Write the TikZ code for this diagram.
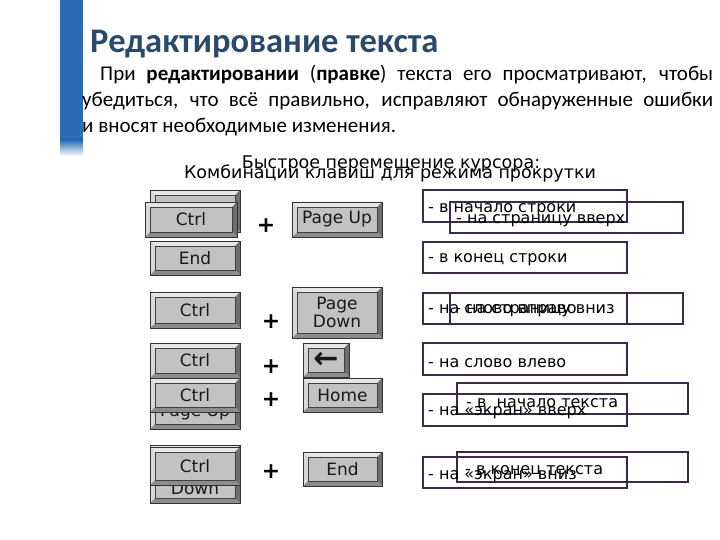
\documentclass[tikz,border=0pt]{standalone}
\usepackage{fontspec}
\setmainfont{Carlito}
\newfontfamily\dv{DejaVu Sans}
\definecolor{barblue}{HTML}{2A6DB4}
\definecolor{titleblue}{HTML}{2B4A6B}
\definecolor{boxline}{HTML}{3B2B48}
\definecolor{kbface}{HTML}{C2C2C2}
\definecolor{kbtop}{HTML}{E6E6E6}
\definecolor{kbleft}{HTML}{D8D8D8}
\definecolor{kbright}{HTML}{6E6E6E}
\definecolor{kbbottom}{HTML}{8C8C8C}
\newcommand\bvw{5}
% name, x1, y1, x2, y2, label
\newcommand\kbkey[6]{%
  \fill[kbtop] (#2,#3) -- (#4,#3) -- ({#4-\bvw},{#3+\bvw}) -- ({#2+\bvw},{#3+\bvw}) -- cycle;
  \fill[kbleft] (#2,#3) -- ({#2+\bvw},{#3+\bvw}) -- ({#2+\bvw},{#5-\bvw}) -- (#2,#5) -- cycle;
  \fill[kbright] (#4,#3) -- (#4,#5) -- ({#4-\bvw},{#5-\bvw}) -- ({#4-\bvw},{#3+\bvw}) -- cycle;
  \fill[kbbottom] (#2,#5) -- (#4,#5) -- ({#4-\bvw},{#5-\bvw}) -- ({#2+\bvw},{#5-\bvw}) -- cycle;
  \draw[kbfacestyle] ({#2+\bvw},{#3+\bvw}) rectangle ({#4-\bvw},{#5-\bvw});
  \draw[kboutline] (#2,#3) rectangle (#4,#5);
  \node[kblabel] (#1) at ({(#2+#4)/2},{(#3+#5)/2}) {#6};
}
\begin{document}
\begin{tikzpicture}[x=1pt,y=-1pt,
  kbfacestyle/.style={fill=kbface, draw=black!75, line width=0.8pt},
  kboutline/.style={draw=black!80, line width=0.8pt},
  kblabel/.style={font=\dv\fontsize{17}{18}\selectfont, align=center, inner sep=0pt, text=black!90},
  plus/.style={font=\dv\bfseries\fontsize{22}{22}\selectfont, inner sep=0pt},
  descbox/.style={draw=boxline, line width=1.1pt},
  desc/.style={font=\dv\fontsize{16}{17}\selectfont, anchor=west, inner sep=0pt},
  bodyline/.style={font=\fontsize{21}{26}\selectfont, anchor=base west, inner sep=0pt}]
\useasboundingbox (0,0) rectangle (720,540);
\fill[white] (0,0) rectangle (720,540);
% blue bar
\fill[barblue] (60,0) rectangle (83,140);
\shade[top color=barblue, bottom color=white] (60,140) rectangle (83,156);
% title
\node[anchor=base west, inner sep=0pt, text=titleblue, font=\bfseries\fontsize{34.5}{36}\selectfont] (title) at (90,53) {Редактирование текста};
% body
\node[bodyline] (l1) at (100,81) {\makebox[613pt][s]{При \textbf{редактировании} (\textbf{правке}) текста его просматривают, чтобы}};
\node[bodyline] (l2) at (82,107) {\makebox[631pt][s]{убедиться, что всё правильно, исправляют обнаруженные ошибки}};
\node[bodyline] (l3) at (82,133) {и вносят необходимые изменения.};
% headings
\node[font=\dv\fontsize{17.5}{18}\selectfont, inner sep=0pt] (h1) at (391,164) {Быстрое перемещение курсора:};
\node[font=\dv\fontsize{17.5}{18}\selectfont, inner sep=0pt] (h2) at (390,174) {Комбинации клавиш для режима прокрутки};
% keys, row 1
\kbkey{kHomeBack}{150}{190}{240}{232}{Home}
\kbkey{kCtrlA}{145}{202}{237}{237}{Ctrl}
\kbkey{kPgUp}{292}{202}{382}{237}{Page Up}
\kbkey{kEndA}{150}{241}{240}{275}{End}
\node[plus] (p1) at (266,226) {+};
% row 2
\kbkey{kCtrlB}{150}{292}{240}{328}{Ctrl}
\kbkey{kPgDn}{292}{287}{382}{338}{Page\\Down}
\node[plus] (p2) at (271,322) {+};
% row 3/4 (back key)
\kbkey{kPgUpBack}{150}{396}{240}{429}{Page Up}
\kbkey{kCtrlC}{150}{343}{240}{378}{Ctrl}
\kbkey{kLeft}{303}{343}{349}{377}{\bfseries\fontsize{30}{30}\selectfont ←}
\node[plus] (p3) at (271,367) {+};
\kbkey{kCtrlD}{150}{378}{240}{412}{Ctrl}
\kbkey{kHome}{303}{378}{382}{412}{Home}
\node[plus] (p4) at (271,400) {+};
% row 5
\kbkey{kPgDnBack}{150}{445}{240}{503}{}
\node[kblabel, font=\dv\fontsize{17}{19}\selectfont] (kPgDnBackLabel) at (195,479) {Page\\Down};
\kbkey{kCtrlE}{150}{447}{240}{485}{Ctrl}
\kbkey{kEndB}{303}{452}{382}{486}{End}
\node[plus] (p5) at (271,472) {+};
% description boxes
\draw[descbox] (423,190) rectangle (627,222);
\node[desc] (dA) at (428,210) {- в начало строки};
\draw[descbox] (450,202) rectangle (683,233);
\node[desc] (dB) at (456,221) {- на страницу вверх};
\draw[descbox] (423,242) rectangle (627,273);
\node[desc] (dC) at (428,260) {- в конец строки};
\draw[descbox] (423,293) rectangle (627,324);
\draw[descbox] (450,293) rectangle (683,324);
\node[desc] (dD) at (428,311) {- на слово вправо};
\node[desc] (dE) at (455,311) {- на страницу вниз};
\draw[descbox] (423,343) rectangle (627,375);
\node[desc] (dF) at (428,363) {- на слово влево};
\draw[descbox] (457,383) rectangle (688,414);
\node[desc] (dG) at (466,403) {- в~ начало текста};
\draw[descbox] (423,394) rectangle (627,426);
\node[desc] (dH) at (428,413) {- на «экран» вверх};
\draw[descbox] (457,452) rectangle (688,482);
\node[desc] (dI) at (465,471) {- в конец текста};
\draw[descbox] (423,457) rectangle (627,488);
\node[desc] (dJ) at (428,477) {- на «экран» вниз};
\end{tikzpicture}
\end{document}
